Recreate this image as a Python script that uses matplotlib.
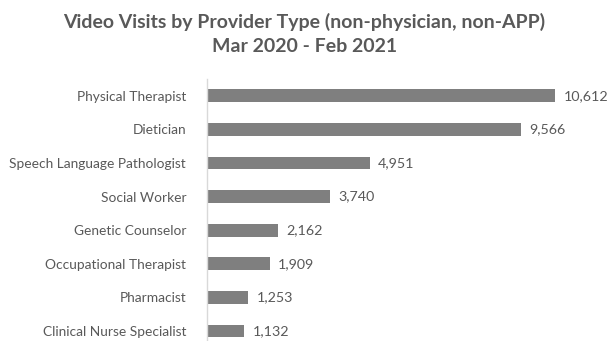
import matplotlib
matplotlib.use("Agg")
import matplotlib.pyplot as plt

providers = ["Physical Therapist", "Dietician", "Speech Language Pathologist",
             "Social Worker", "Genetic Counselor", "Occupational Therapist",
             "Pharmacist", "Clinical Nurse Specialist"]
visits = [10612, 9566, 4951, 3740, 2162, 1909, 1253, 1132]

plt.rcParams['font.family'] = ['Lato', 'DejaVu Sans']
text_col = '#595959'

W, H = 609, 341
fig = plt.figure(figsize=(W / 100, H / 100), dpi=100)
# axes in pixel terms: left 207, right 601, top 79, bottom 341
ax = fig.add_axes([207 / W, 0, (601 - 207) / W, (341 - 79) / H])

pos = list(range(len(providers)))
ax.barh(pos, visits, height=0.38, color='#7f7f7f')
ax.set_xlim(0, 12000)
ax.set_ylim(7.3, -0.5)

for y, v in zip(pos, visits):
    ax.text(v + 250, y, "{:,}".format(v), va='center', ha='left',
            fontsize=10.3, color=text_col)

ax.set_yticks(pos)
ax.set_yticklabels(providers, fontsize=9.9, color=text_col)
ax.tick_params(axis='y', length=0, pad=15)
ax.set_xticks([])
for s in ['top', 'right', 'bottom']:
    ax.spines[s].set_visible(False)
ax.spines['left'].set_color('#d9d9d9')
ax.spines['left'].set_linewidth(1)

fig.text(0.5, 1 - 22 / H, "Video Visits by Provider Type (non-physician, non-APP)",
         ha='center', va='center', fontsize=14, fontweight='bold', color=text_col)
fig.text(0.5, 1 - 47 / H, "Mar 2020 - Feb 2021",
         ha='center', va='center', fontsize=14, fontweight='bold', color=text_col)

fig.savefig("out.png", dpi=100)
